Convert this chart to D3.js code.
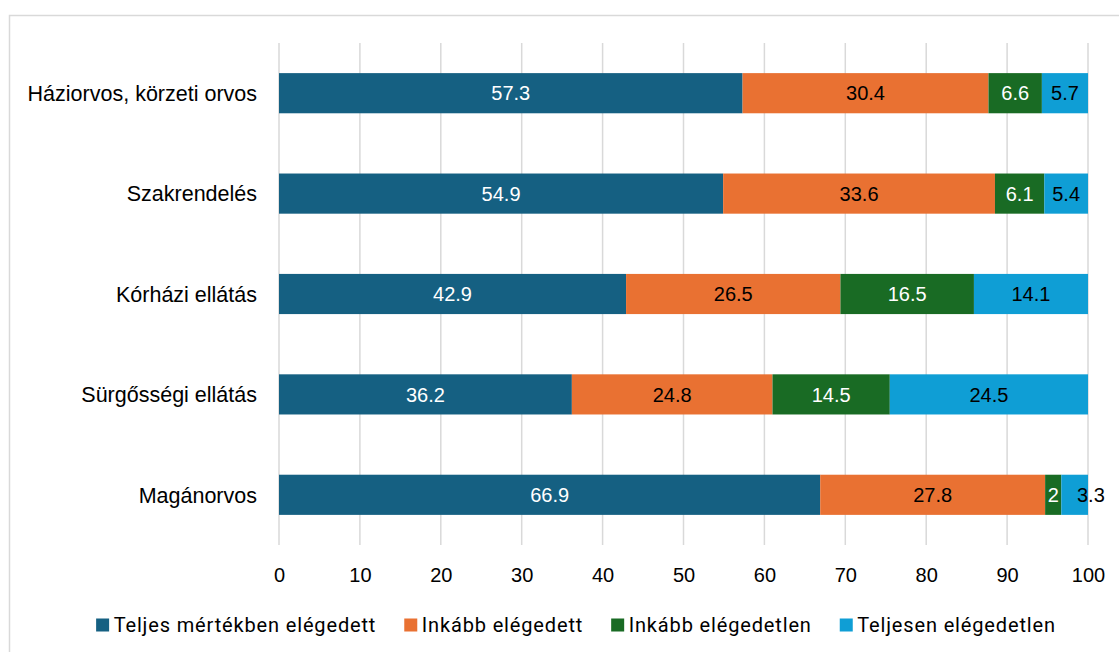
<!DOCTYPE html>
<html><head><meta charset="utf-8">
<script src="https://cdn.jsdelivr.net/npm/d3@7"></script>
<style>
body{margin:0;background:#fff;}
svg{font-family:"Liberation Sans",Arial,sans-serif;}
</style></head>
<body><svg id="c" width="1119" height="652"></svg>
<script>
const categories = ["Háziorvos, körzeti orvos","Szakrendelés","Kórházi ellátás","Sürgősségi ellátás","Magánorvos"];
const seriesNames = ["Teljes mértékben elégedett","Inkább elégedett","Inkább elégedetlen","Teljesen elégedetlen"];
const teljesElegedett = [57.3,54.9,42.9,36.2,66.9];
const inkabbElegedett = [30.4,33.6,26.5,24.8,27.8];
const inkabbElegedetlen = [6.6,6.1,16.5,14.5,2];
const teljesenElegedetlen = [5.7,5.4,14.1,24.5,3.3];
const xTicks = [0,10,20,30,40,50,60,70,80,90,100];
const colors = ["#156082","#E97132","#196B24","#0F9ED5"];
const labelColors = ["#fff","#000","#fff","#000"];

const series = [teljesElegedett,inkabbElegedett,inkabbElegedetlen,teljesenElegedetlen];
const svg = d3.select("#c");

svg.append("rect").attr("x",9.5).attr("y",15.5).attr("width",1130).attr("height",660)
  .attr("fill","none").attr("stroke","#d9d9d9").attr("stroke-width",1.5);

const x = d3.scaleLinear().domain([0,100]).range([279,1088]);
const y = d3.scaleBand().domain(categories).range([43,545]).paddingInner(0.6).paddingOuter(0.3);

svg.append("g").selectAll("line").data(xTicks).join("line")
  .attr("x1",d=>x(d)).attr("x2",d=>x(d)).attr("y1",43).attr("y2",545)
  .attr("stroke","#d9d9d9").attr("stroke-width",1.5);

const rows = categories.map((c,i)=>{let acc=0; return series.map((s,k)=>{const v=s[i]; const r={c,k,v,x0:acc,x1:acc+v}; acc+=v; return r;});});
const segs = rows.flat();

svg.append("g").selectAll("rect").data(segs).join("rect")
  .attr("x",d=>x(d.x0)).attr("width",d=>x(d.x1)-x(d.x0))
  .attr("y",d=>y(d.c)).attr("height",y.bandwidth())
  .attr("fill",d=>colors[d.k]);

const lab = svg.append("g").selectAll("text").data(segs).join("text")
  .attr("y",d=>y(d.c)+y.bandwidth()/2).attr("dy","0.36em")
  .attr("font-size",20).attr("fill",d=>labelColors[d.k])
  .text(d=>d3.format("")(d.v));
lab.each(function(d){
  const w = this.getComputedTextLength();
  const segW = x(d.x1)-x(d.x0);
  const sel = d3.select(this);
  if (w > segW - 2) {
    sel.attr("text-anchor","start").attr("x", x(d.x1)-11);
  } else {
    sel.attr("text-anchor","middle").attr("x",(x(d.x0)+x(d.x1))/2);
  }
});

const yAxis = svg.append("g").attr("transform","translate(257,0)")
  .call(d3.axisLeft(y).tickSize(0).tickPadding(0));
yAxis.select(".domain").remove();
yAxis.selectAll("text").attr("font-size",21.5).attr("fill","#000").attr("font-family",null).attr("dy","0.36em");

const xAxis = svg.append("g").attr("transform","translate(0,545)")
  .call(d3.axisBottom(x).tickValues(xTicks).tickSize(0).tickPadding(37));
xAxis.select(".domain").remove();
xAxis.selectAll("text").attr("font-size",20).attr("fill","#000").attr("font-family",null).attr("dy","0");

const leg = svg.append("g");
const items = leg.selectAll("g").data(seriesNames).join("g");
items.append("rect").attr("width",13).attr("height",13).attr("y",-6.5).attr("fill",(d,i)=>colors[i]);
items.append("text").attr("x",17.5).attr("dy","0.36em").attr("font-size",20).attr("letter-spacing",0.85)
  .attr("font-family","Roboto, sans-serif").attr("fill","#000").text(d=>d);
let cx=0; const gap=28;
items.each(function(){const w=this.getBBox().width; d3.select(this).attr("data-x",cx); cx+=w+gap;});
const total = cx-gap;
const start = 576 - total/2;
items.attr("transform",function(){return `translate(${start+ +this.getAttribute("data-x")},625)`;});
</script></body></html>
